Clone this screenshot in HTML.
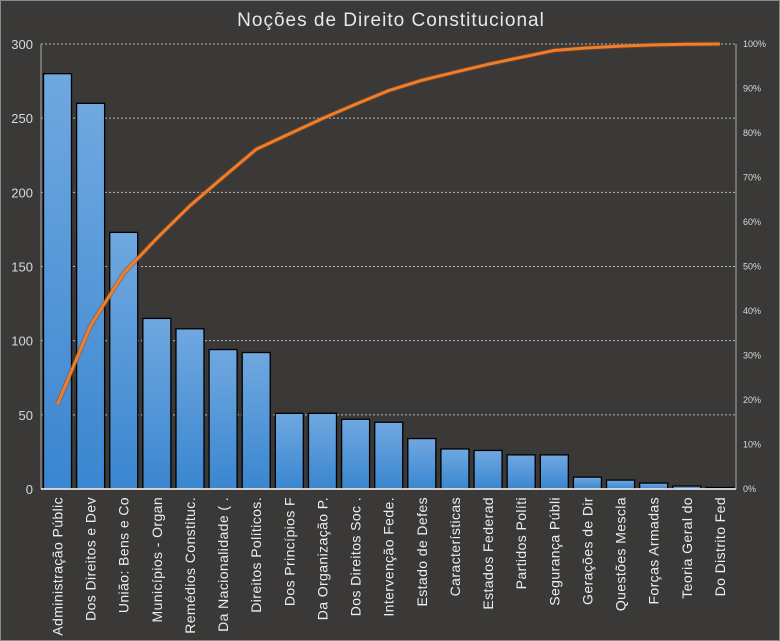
<!DOCTYPE html>
<html><head><meta charset="utf-8"><style>
html,body{margin:0;padding:0;background:#3a3938;}
svg{display:block;}
text{font-family:"Liberation Sans",sans-serif;}
</style></head><body>
<svg id="c" width="780" height="641" xmlns="http://www.w3.org/2000/svg">
<defs><linearGradient id="g" x1="0" y1="0" x2="0" y2="1"><stop offset="0" stop-color="#70a8e0"/><stop offset="1" stop-color="#3a86d0"/></linearGradient></defs>
<rect x="0.5" y="0.5" width="779" height="640" fill="#3a3938" stroke="#8a8a8a"/>
<text x="391" y="26" text-anchor="middle" font-size="19" fill="#e8e8e8" letter-spacing="1">Noções de Direito Constitucional</text>
<g id="grid"></g>
</svg>
<script>
var vals=[280,260,173,115,108,94,92,51,51,47,45,34,27,26,23,23,8,6,4,2,1];
var names=["Administração Públic","Dos Direitos e Dev","União: Bens e Co","Municípios - Organ","Remédios Constituc.","Da Nacionalidade ( .","Direitos Políticos.","Dos Princípios F","Da Organização P.","Dos Direitos Soc .","Intervenção Fede.","Estado de Defes","Características","Estados Federad","Partidos Políti","Segurança Públi","Gerações de Dir","Questões Mescla","Forças Armadas","Teoria Geral do","Do Distrito Fed"];
var L=41,R=736,T=44,B=489,H=B-T,s="";
for(var v=0;v<=300;v+=50){var y=B-v/300*H;
 if(v>0)s+='<line x1="'+L+'" x2="'+R+'" y1="'+y+'" y2="'+y+'" stroke="#b8b8b8" stroke-dasharray="2,2" stroke-width="1"/>';
 s+='<text x="33" y="'+(y+5)+'" text-anchor="end" font-size="13" fill="#d8d8d8">'+v+'</text>';}
for(var p=0;p<=100;p+=10){var y=B-p/100*H;s+='<text x="743" y="'+(y+3)+'" font-size="9" fill="#d8d8d8">'+p+'%</text>';}
s+='<line x1="'+L+'" x2="'+L+'" y1="'+T+'" y2="'+B+'" stroke="#aaa"/>';
s+='<line x1="'+R+'" x2="'+R+'" y1="'+T+'" y2="'+B+'" stroke="#aaa"/>';
var sum=0,tot=1470,pts=[];
for(var i=0;i<21;i++){var cx=57.5+i*33.12,h=vals[i]/300*H;
 s+='<rect x="'+(cx-14)+'" y="'+(B-h)+'" width="28" height="'+h+'" fill="url(#g)" stroke="#000" stroke-width="1.3"/>';
 sum+=vals[i];pts.push(cx+','+(B-sum/tot*H).toFixed(1));
 s+='<text transform="translate('+(cx+5)+',497) rotate(-90)" text-anchor="end" font-size="14" letter-spacing="0.4" fill="#eee">'+names[i]+'</text>';}
s+='<line x1="'+L+'" x2="'+R+'" y1="'+B+'" y2="'+B+'" stroke="#fff" stroke-width="1.5"/>';
s+='<polyline points="'+pts.join(' ')+'" fill="none" stroke="#8a4a20" stroke-width="5" opacity="0.5"/>';
s+='<polyline points="'+pts.join(' ')+'" fill="none" stroke="#f07d2a" stroke-width="3"/>';
document.getElementById('grid').innerHTML=s;
</script>
</body></html>
